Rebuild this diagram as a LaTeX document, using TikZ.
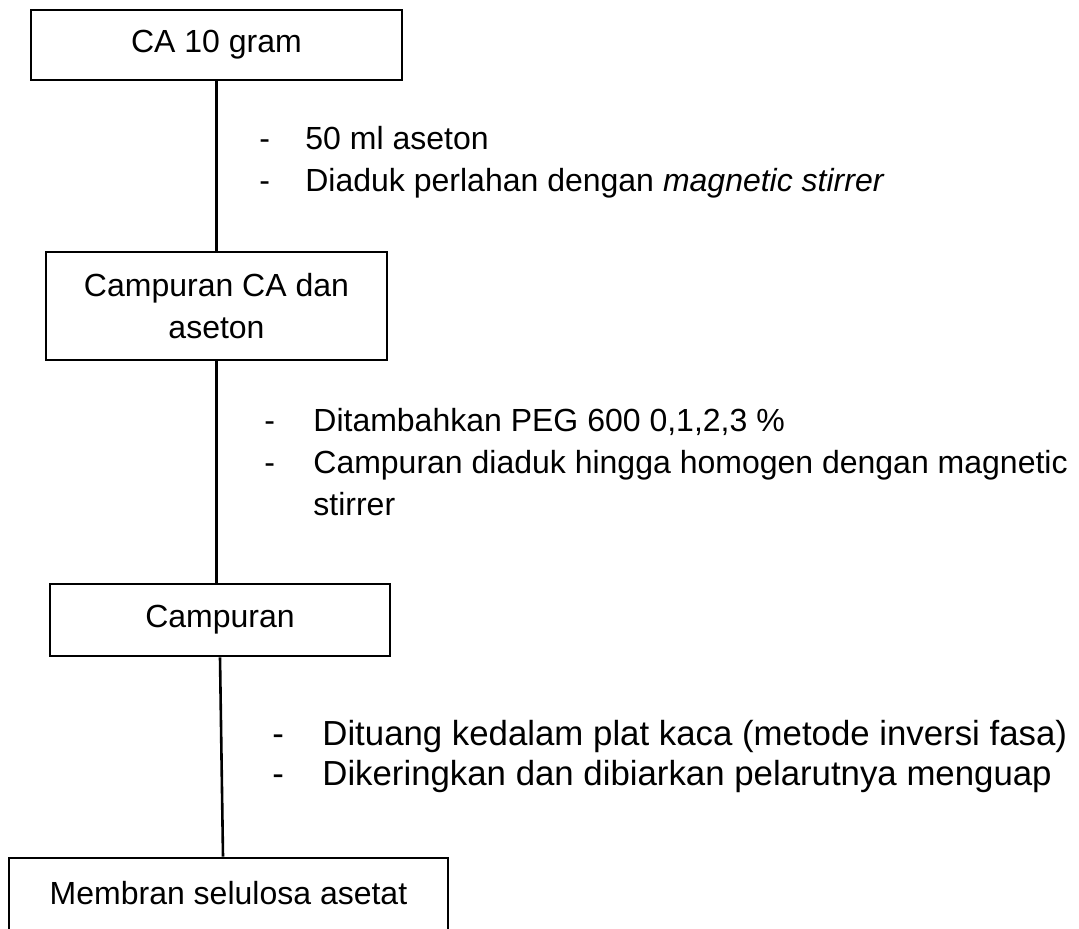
\documentclass[tikz,border=0pt]{standalone}
\usepackage{fontspec}
\setmainfont{Liberation Sans}
\usetikzlibrary{calc}

\begin{document}
\begin{tikzpicture}[x=0.5pt,y=-0.5pt,
  box/.style={draw,line width=1.3pt,rectangle,align=center,inner sep=0pt,
    font=\fontsize{16}{21}\selectfont},
  note/.style={anchor=west,inner sep=0pt,align=left,
    font=\fontsize{16}{21}\selectfont}]
  \useasboundingbox (0,0) rectangle (1079,928);
  \clip (0,0) rectangle (1079,928);
  \setlength{\tabcolsep}{0pt}
  \node[box,minimum width=185.5pt,minimum height=35pt] (ca) at (216.5,45) {CA 10 gram};
  \node[box,minimum width=170.5pt,minimum height=54pt] (campur) at (216.5,306) {Campuran CA dan\\aseton};
  \node[box,minimum width=170pt,minimum height=36pt] (mix) at (220,620) {Campuran};
  \node[box,minimum width=219.5pt,minimum height=38pt] (memb) at (228.5,896) {\raisebox{3.5pt}{Membran selulosa asetat}};
  \draw[line width=1.3pt] (ca) -- (ca |- campur.north);
  \draw[line width=1.3pt] (campur) -- (campur |- mix.north);
  \draw[line width=1.3pt] (mix.south) -- ($(memb.north)+(-5.5,0)$);
  \node[note] (n1) at (259,162) {\begin{tabular}{@{}p{23pt}l@{}}
    - & 50 ml aseton\\
    - & Diaduk perlahan dengan \textit{magnetic stirrer}
  \end{tabular}};
  \node[note] (n2) at (264,465) {\begin{tabular}{@{}p{24.5pt}l@{}}
    - & Ditambahkan PEG 600 0,1,2,3 \%\\
    - & Campuran diaduk hingga homogen dengan magnetic\\
      & stirrer
  \end{tabular}};
  \node[note,font=\fontsize{17.4}{20}\selectfont] (n3) at (272,757) {\begin{tabular}{@{}p{25pt}l@{}}
    - & Dituang kedalam plat kaca (metode inversi fasa)\\
    - & Dikeringkan dan dibiarkan pelarutnya menguap
  \end{tabular}};
\end{tikzpicture}
\end{document}
